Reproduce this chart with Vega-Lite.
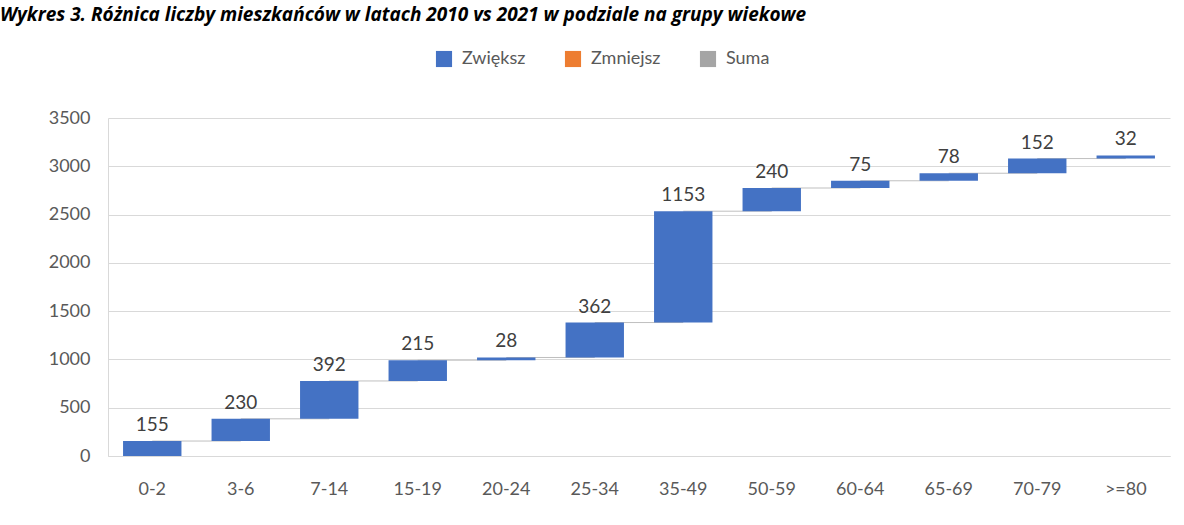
{
  "$schema": "https://vega.github.io/schema/vega-lite/v6.json",
  "autosize": {"type": "none"},
  "width": 1062,
  "height": 338,
  "padding": {"left": 108, "top": 118, "right": 14, "bottom": 69},
  "background": "white",
  "title": {
    "text": "Wykres 3. Różnica liczby mieszkańców w latach 2010 vs 2021 w podziale na grupy wiekowe",
    "anchor": "start",
    "frame": "group",
    "dx": -108,
    "dy": -21,
    "font": "Open Sans",
    "fontSize": 19,
    "fontWeight": "bold",
    "fontStyle": "italic",
    "color": "#000000"
  },
  "config": {
    "view": {"stroke": null},
    "font": "Lato",
    "axis": {
      "labelFont": "Lato",
      "labelColor": "#595959",
      "labelFontSize": 18,
      "gridColor": "#d9d9d9",
      "domainColor": "#d9d9d9",
      "ticks": false,
      "title": null
    },
    "legend": {
      "labelFont": "Lato",
      "labelFontSize": 18,
      "labelColor": "#595959",
      "symbolType": "square",
      "symbolSize": 260,
      "symbolStrokeWidth": 0
    }
  },
  "data": {
    "values": [
      {"group": "0-2", "next": "3-6", "start": 0, "end": 155, "value": 155, "type": "Zwiększ"},
      {"group": "3-6", "next": "7-14", "start": 155, "end": 385, "value": 230, "type": "Zwiększ"},
      {"group": "7-14", "next": "15-19", "start": 385, "end": 777, "value": 392, "type": "Zwiększ"},
      {"group": "15-19", "next": "20-24", "start": 777, "end": 992, "value": 215, "type": "Zwiększ"},
      {"group": "20-24", "next": "25-34", "start": 992, "end": 1020, "value": 28, "type": "Zwiększ"},
      {"group": "25-34", "next": "35-49", "start": 1020, "end": 1382, "value": 362, "type": "Zwiększ"},
      {"group": "35-49", "next": "50-59", "start": 1382, "end": 2535, "value": 1153, "type": "Zwiększ"},
      {"group": "50-59", "next": "60-64", "start": 2535, "end": 2775, "value": 240, "type": "Zwiększ"},
      {"group": "60-64", "next": "65-69", "start": 2775, "end": 2850, "value": 75, "type": "Zwiększ"},
      {"group": "65-69", "next": "70-79", "start": 2850, "end": 2928, "value": 78, "type": "Zwiększ"},
      {"group": "70-79", "next": ">=80", "start": 2928, "end": 3080, "value": 152, "type": "Zwiększ"},
      {"group": ">=80", "next": null, "start": 3080, "end": 3112, "value": 32, "type": "Zwiększ"}
    ]
  },
  "encoding": {
    "x": {
      "field": "group",
      "type": "nominal",
      "sort": null,
      "scale": {"paddingInner": 0.34, "paddingOuter": 0.17},
      "axis": {"labelAngle": 0, "labelPadding": 24, "domain": true, "grid": false}
    }
  },
  "layer": [
    {
      "transform": [{"filter": "datum.next != null"}],
      "mark": {"type": "rule", "color": "#bfbfbf", "strokeWidth": 1},
      "encoding": {
        "x2": {"field": "next"},
        "y": {"field": "end", "type": "quantitative"}
      }
    },
    {
      "mark": {"type": "bar"},
      "encoding": {
        "y": {
          "field": "start",
          "type": "quantitative",
          "scale": {"domain": [0, 3500]},
          "axis": {"values": [0, 500, 1000, 1500, 2000, 2500, 3000, 3500], "format": "d", "labelPadding": 18, "domain": true, "grid": true}
        },
        "y2": {"field": "end"},
        "color": {
          "field": "type",
          "type": "nominal",
          "scale": {"domain": ["Zwiększ", "Zmniejsz", "Suma"], "range": ["#4472C4", "#ED7D31", "#A5A5A5"]},
          "legend": {"title": null, "orient": "none", "direction": "horizontal", "legendX": 327, "legendY": -68, "columnPadding": 38, "labelOffset": 9}
        }
      }
    },
    {
      "mark": {"type": "text", "baseline": "alphabetic", "dy": -10, "fontSize": 19, "color": "#404040", "font": "Lato"},
      "encoding": {
        "y": {"field": "end", "type": "quantitative"},
        "text": {"field": "value", "type": "quantitative"}
      }
    }
  ]
}
